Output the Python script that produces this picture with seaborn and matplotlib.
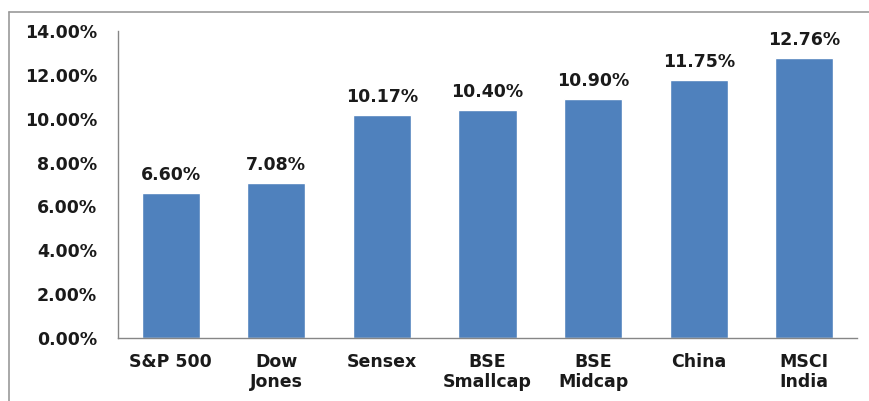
import matplotlib
matplotlib.use("Agg")
import matplotlib.pyplot as plt
import seaborn as sns
import pandas as pd
from matplotlib.lines import Line2D
from matplotlib.ticker import FuncFormatter

categories = ["S&P 500", "Dow\nJones", "Sensex", "BSE\nSmallcap", "BSE\nMidcap", "China", "MSCI\nIndia"]
values = [6.60, 7.08, 10.17, 10.40, 10.90, 11.75, 12.76]
yticks = [0, 2, 4, 6, 8, 10, 12, 14]

sns.set_theme(style="white")
plt.rcParams['font.family'] = ['DejaVu Sans']

df = pd.DataFrame({"cat": categories, "val": values})

fig = plt.figure(figsize=(8.70, 4.01), dpi=100)
ax = fig.add_axes([118/870, 1-338/401, (857-118)/870, (338-31)/401])

sns.barplot(data=df, x="cat", y="val", color="#4F81BD", saturation=1, width=0.55, ax=ax)

ax.set_ylim(0, 14)
ax.set_xlim(-0.5, len(categories)-0.5)
ax.set_yticks(yticks)
ax.yaxis.set_major_formatter(FuncFormatter(lambda v, p: f"{v:.2f}%"))
ax.set_xlabel("")
ax.set_ylabel("")
for s in ["top", "right"]:
    ax.spines[s].set_visible(False)
for s in ["left", "bottom"]:
    ax.spines[s].set_color("#868686")
    ax.spines[s].set_linewidth(1.0)
ax.tick_params(axis="y", length=0, pad=15, labelsize=12.5, labelcolor="#1a1a1a")
ax.tick_params(axis="x", length=0, pad=11, labelsize=12.5, labelcolor="#1a1a1a")
for lab in ax.get_yticklabels() + ax.get_xticklabels():
    lab.set_fontweight("bold")
    lab.set_linespacing(1.1)
for lab in ax.get_xticklabels():
    lab.set_verticalalignment("top")

for i, v in enumerate(values):
    ax.annotate(f"{v:.2f}%", xy=(i, v), xytext=(0, 13), textcoords="offset points",
                ha="center", va="center", fontsize=12.5, fontweight="bold", color="#1a1a1a")

# outer frame (top and left visible)
fig.add_artist(Line2D([9/870, 9/870], [0, 1-12/401], transform=fig.transFigure, color="#9a9a9a", lw=1.2))
fig.add_artist(Line2D([9/870, 1], [1-12/401, 1-12/401], transform=fig.transFigure, color="#9a9a9a", lw=1.2))

fig.savefig("out.png", dpi=100, facecolor="white")
